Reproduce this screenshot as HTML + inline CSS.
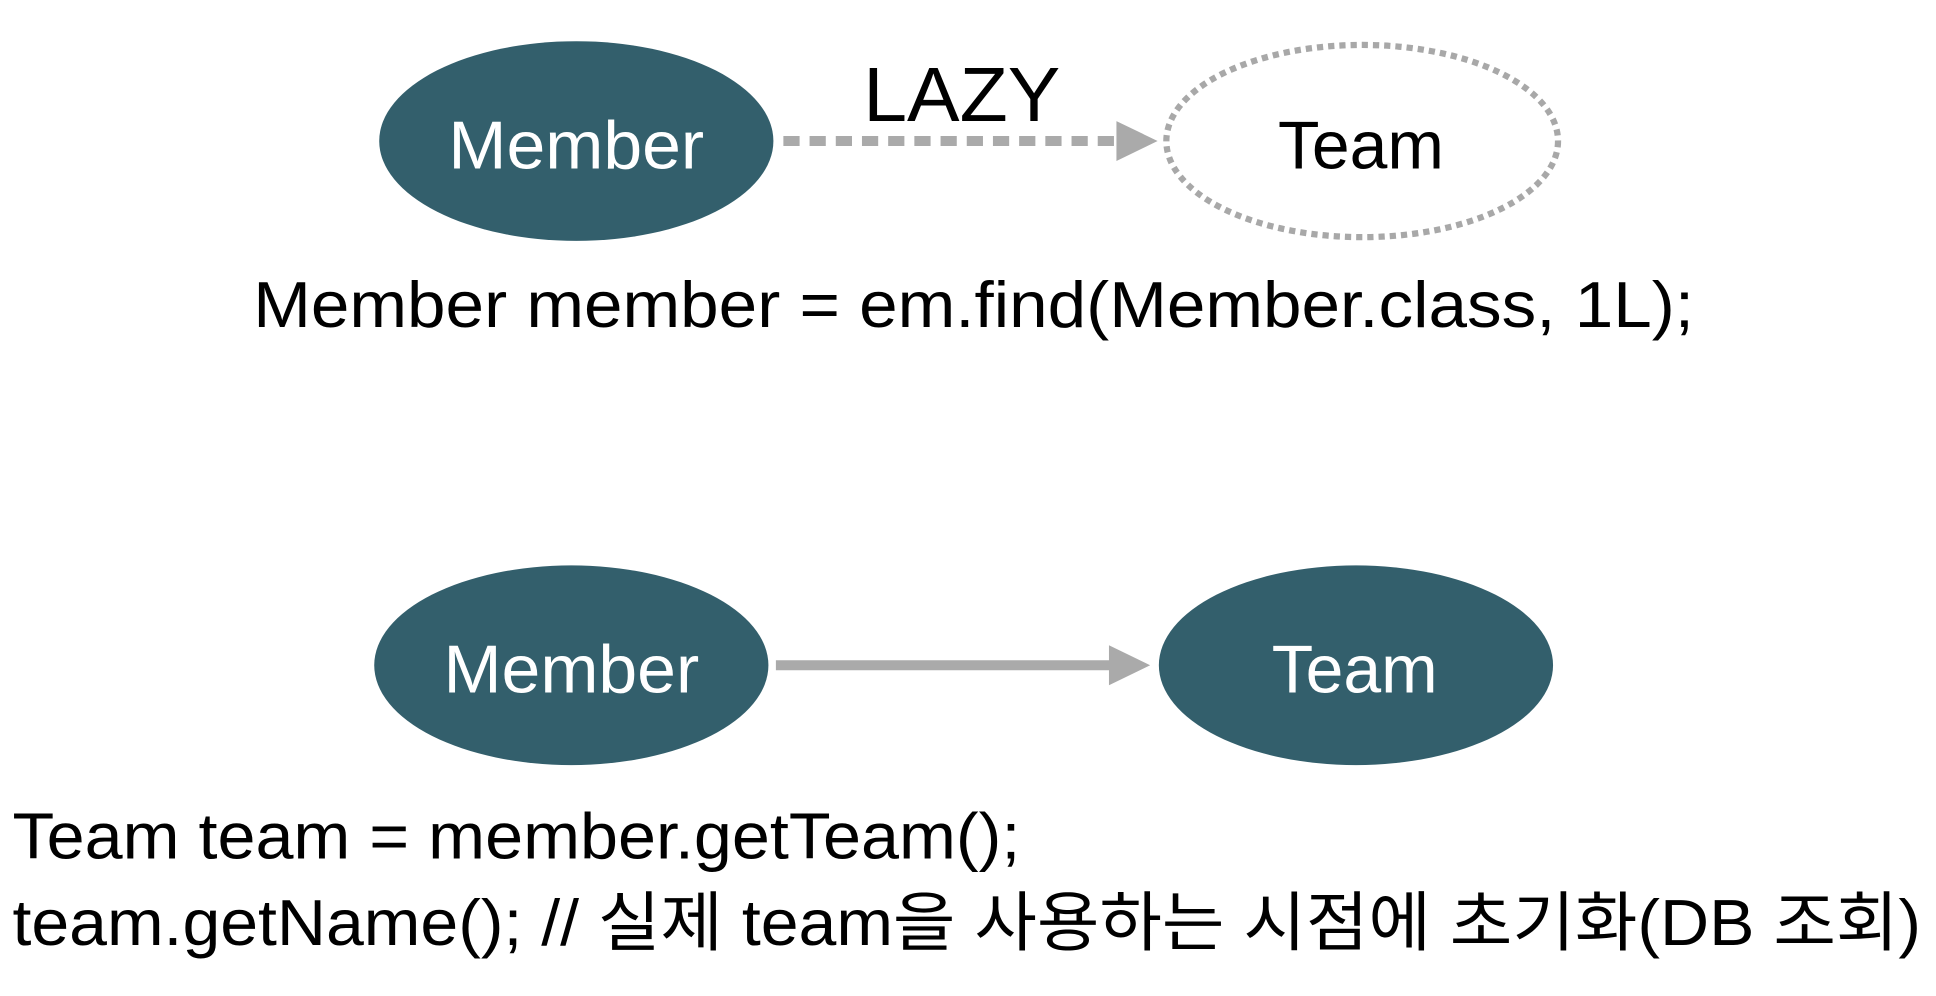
<!DOCTYPE html>
<html><head><meta charset="utf-8"><style>html,body{margin:0;padding:0;background:#fff;overflow:hidden}svg{display:block}</style></head>
<body>
<svg width="1936" height="996" viewBox="0 0 1552 798" preserveAspectRatio="none" xmlns="http://www.w3.org/2000/svg" font-family="'Liberation Sans','Noto Sans CJK KR',sans-serif">
<ellipse cx="462" cy="113" rx="158" ry="80" fill="#335f6c"/>
<text x="462" y="135" font-size="54" fill="#fff" text-anchor="middle" textLength="205" lengthAdjust="spacingAndGlyphs">Member</text>
<ellipse cx="1092" cy="113" rx="157" ry="77" fill="none" stroke="#a8a8a8" stroke-width="5" stroke-dasharray="5 4"/>
<text x="1091" y="135" font-size="54" fill="#000" text-anchor="middle" textLength="133" lengthAdjust="spacingAndGlyphs">Team</text>
<line x1="628" y1="113" x2="895" y2="113" stroke="#aaa" stroke-width="8" stroke-dasharray="13 8"/>
<polygon points="895,97 928,113 895,129" fill="#aaa"/>
<text x="771" y="97" font-size="62" fill="#000" text-anchor="middle" textLength="158" lengthAdjust="spacingAndGlyphs">LAZY</text>
<text x="203" y="262" font-size="52" fill="#000" textLength="1155" lengthAdjust="spacingAndGlyphs">Member member = em.find(Member.class, 1L);</text>
<ellipse cx="458" cy="533" rx="158" ry="80" fill="#335f6c"/>
<text x="458" y="555" font-size="54" fill="#fff" text-anchor="middle" textLength="205" lengthAdjust="spacingAndGlyphs">Member</text>
<ellipse cx="1087" cy="533" rx="158" ry="80" fill="#335f6c"/>
<text x="1086" y="555" font-size="54" fill="#fff" text-anchor="middle" textLength="133" lengthAdjust="spacingAndGlyphs">Team</text>
<line x1="622" y1="533" x2="892" y2="533" stroke="#aaa" stroke-width="8"/>
<polygon points="889,517 922,533 889,549" fill="#aaa"/>
<text x="10" y="688" font-size="52" fill="#000" textLength="808" lengthAdjust="spacingAndGlyphs">Team team = member.getTeam();</text>
<text x="10" y="757" font-size="52" fill="#000" textLength="1530" lengthAdjust="spacingAndGlyphs">team.getName(); // 실제 team을 사용하는 시점에 초기화(DB 조회)</text>
</svg>
</body></html>
